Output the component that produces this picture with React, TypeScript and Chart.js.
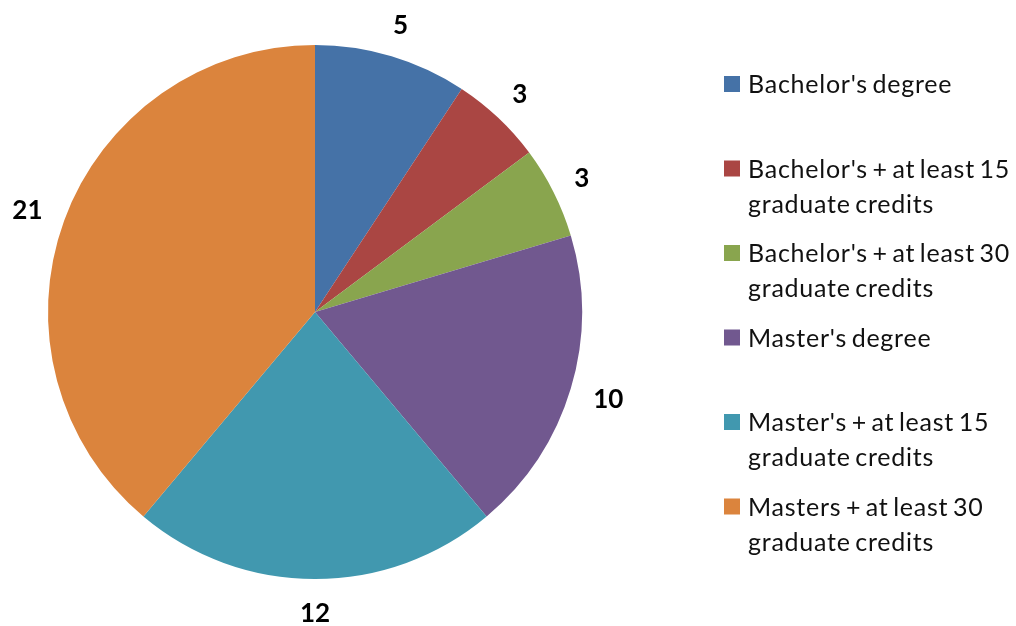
import React, { useEffect, useRef } from "react";
import { Chart, registerables } from "chart.js";

Chart.register(...registerables);

const categories: string[][] = [
  ["Bachelor's degree"],
  ["Bachelor's + at least 15", "graduate credits"],
  ["Bachelor's + at least 30", "graduate credits"],
  ["Master's degree"],
  ["Master's + at least 15", "graduate credits"],
  ["Masters + at least 30", "graduate credits"],
];
const values: number[] = [5, 3, 3, 10, 12, 21];
const colors: string[] = ["#4572A7", "#AA4643", "#89A54E", "#71588F", "#4198AF", "#DB843D"];

const FONT = "Lato, 'Open Sans', sans-serif";

const labelPlugin = {
  id: "outerLabels",
  afterDatasetsDraw(chart: any) {
    const ctx = chart.ctx;
    const meta = chart.getDatasetMeta(0);
    ctx.save();
    ctx.font = `bold 26px ${FONT}`;
    ctx.fillStyle = "#000";
    ctx.textAlign = "center";
    ctx.textBaseline = "middle";
    meta.data.forEach((arc: any, i: number) => {
      const p = arc.getProps(["x", "y", "startAngle", "endAngle", "outerRadius"], true);
      const mid = (p.startAngle + p.endAngle) / 2;
      const txt = String(values[i]);
      const w = ctx.measureText(txt).width;
      const h = 19;
      const r = p.outerRadius + 24;
      const c = Math.cos(mid);
      const s = Math.sin(mid);
      const x = p.x + c * r + (c * w) / 2;
      const y = p.y + s * r + (s * h) / 2;
      ctx.fillText(txt, x, y + 1);
    });
    ctx.restore();
  },
};

const legendPlugin = {
  id: "customLegend",
  afterDraw(chart: any) {
    const ctx = chart.ctx;
    ctx.save();
    ctx.font = `25px ${FONT}`;
    try {
      ctx.letterSpacing = "0.75px";
      ctx.wordSpacing = "-2.5px";
    } catch (e) {}
    ctx.textAlign = "left";
    ctx.textBaseline = "middle";
    const x0 = 724;
    const textX = 748;
    const y0 = 84;
    const step = 84.5;
    const lineH = 35;
    categories.forEach((lines, i) => {
      const cy = y0 + i * step;
      ctx.fillStyle = colors[i];
      ctx.fillRect(x0, cy - 8, 16, 16);
      ctx.fillStyle = "#111";
      lines.forEach((t, j) => ctx.fillText(t, textX, cy + j * lineH + 1));
    });
    ctx.restore();
  },
};

export default function App() {
  const ref = useRef<HTMLCanvasElement>(null);
  useEffect(() => {
    document.body.style.margin = "0";
    if (!ref.current) return;
    const chart = new Chart(ref.current, {
      type: "pie",
      data: {
        labels: categories.map((c) => c.join(" ")),
        datasets: [
          {
            data: values,
            backgroundColor: colors,
            borderWidth: 0,
          },
        ],
      },
      options: {
        responsive: false,
        devicePixelRatio: 1,
        animation: false,
        layout: { padding: { left: 48, right: 434, top: 45, bottom: 47 } },
        plugins: {
          legend: { display: false },
          tooltip: { enabled: false },
        },
      },
      plugins: [labelPlugin, legendPlugin],
    });
    return () => chart.destroy();
  }, []);
  return (
    <div style={{ width: 1016, height: 626, background: "#fff" }}>
      <canvas ref={ref} width={1016} height={626} style={{ display: "block" }} />
    </div>
  );
}
